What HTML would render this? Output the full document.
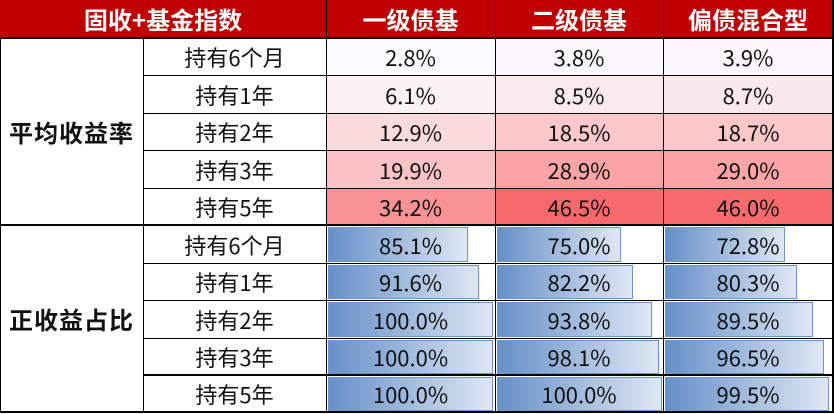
<!DOCTYPE html>
<html><head><meta charset="utf-8"><style>
body{margin:0;width:834px;height:414px;background:#fff;overflow:hidden;position:relative;font-family:"Noto Sans CJK SC",sans-serif;}
div{position:absolute;box-sizing:border-box;}
.t{display:flex;align-items:center;justify-content:center;font-size:22px;line-height:1;color:#111;padding-top:1px;}
.h{color:#fff;font-weight:bold;font-size:24px;}
.b{font-weight:bold;font-size:24px;letter-spacing:1px;}
.ln{background:#000;}
.bar{border:1px solid #6d95cc;background:linear-gradient(to right,#6690c8,#dfe7f3);}
</style></head><body>
<div style="left:0;top:0;width:834px;height:37px;background:#c00000"></div>
<script>
var X=[0,143,326,495,663,833];
var Y=[37,75,113,150,188,225,263,300,338,375,412];
var B=document.body;
function el(cls,s,txt){var d=document.createElement('div');d.className=cls;d.setAttribute('style',s);if(txt!==undefined)d.textContent=txt;B.appendChild(d);return d;}
var hd=['固收+基金指数','一级债基','二级债基','偏债混合型'];
el('t h','left:0;top:0;width:326px;height:37px',hd[0]);
for(var i=1;i<4;i++)el('t h','left:'+X[i+1]+'px;top:0;width:'+(X[i+2]-X[i+1])+'px;height:37px',hd[i]);
var rl=['持有6个月','持有1年','持有2年','持有3年','持有5年'];
var A=[[2.8,3.8,3.9],[6.1,8.5,8.7],[12.9,18.5,18.7],[19.9,28.9,29.0],[34.2,46.5,46.0]];
var P=[[85.1,75.0,72.8],[91.6,82.2,80.3],[100,93.8,89.5],[100,98.1,96.5],[100,100,99.5]];
function col(v){var t=(v-2.8)/43.7;var a=[252,252,255],b=[248,105,107];return 'rgb('+a.map(function(x,k){return Math.round(x+(b[k]-x)*t)}).join(',')+')';}
for(var r=0;r<10;r++){
 var y=Y[r],h=Y[r+1]-Y[r];
 el('t','left:143px;top:'+y+'px;width:183px;height:'+h+'px',rl[r%5]);
 for(var c=0;c<3;c++){
  var x=X[c+2],w=X[c+3]-x;
  if(r<5){var v=A[r][c];el('t','left:'+x+'px;top:'+y+'px;width:'+w+'px;height:'+h+'px;background:'+col(v),v.toFixed(1)+'%');}
  else{var p=P[r-5][c];el('bar','left:'+(x+2)+'px;top:'+(y+2)+'px;width:'+(165*p/100)+'px;height:'+(h-3)+'px');
   el('t','left:'+x+'px;top:'+y+'px;width:'+w+'px;height:'+h+'px',p.toFixed(1)+'%');}
 }
}
el('t b','left:0;top:37px;width:143px;height:188px','平均收益率');
el('t b','left:0;top:225px;width:143px;height:187px','正收益占比');
el('ln','left:0;top:37px;width:834px;height:2px');
el('ln','left:0;top:224px;width:834px;height:2px');
el('ln','left:143px;top:374px;width:691px;height:2px');
el('ln','left:0;top:411px;width:834px;height:2px');
for(var r=1;r<10;r++){if(r==5||r==9)continue;el('ln','left:143px;top:'+Y[r]+'px;width:691px;height:1px');}
el('ln','left:0;top:37px;width:1px;height:376px');
el('ln','left:143px;top:37px;width:1px;height:376px');
el('ln','left:326px;top:0;width:1px;height:413px');
el('ln','left:495px;top:0;width:1px;height:413px');
el('ln','left:663px;top:0;width:1px;height:413px');
el('ln','left:832px;top:0;width:2px;height:413px');
</script>
</body></html>
